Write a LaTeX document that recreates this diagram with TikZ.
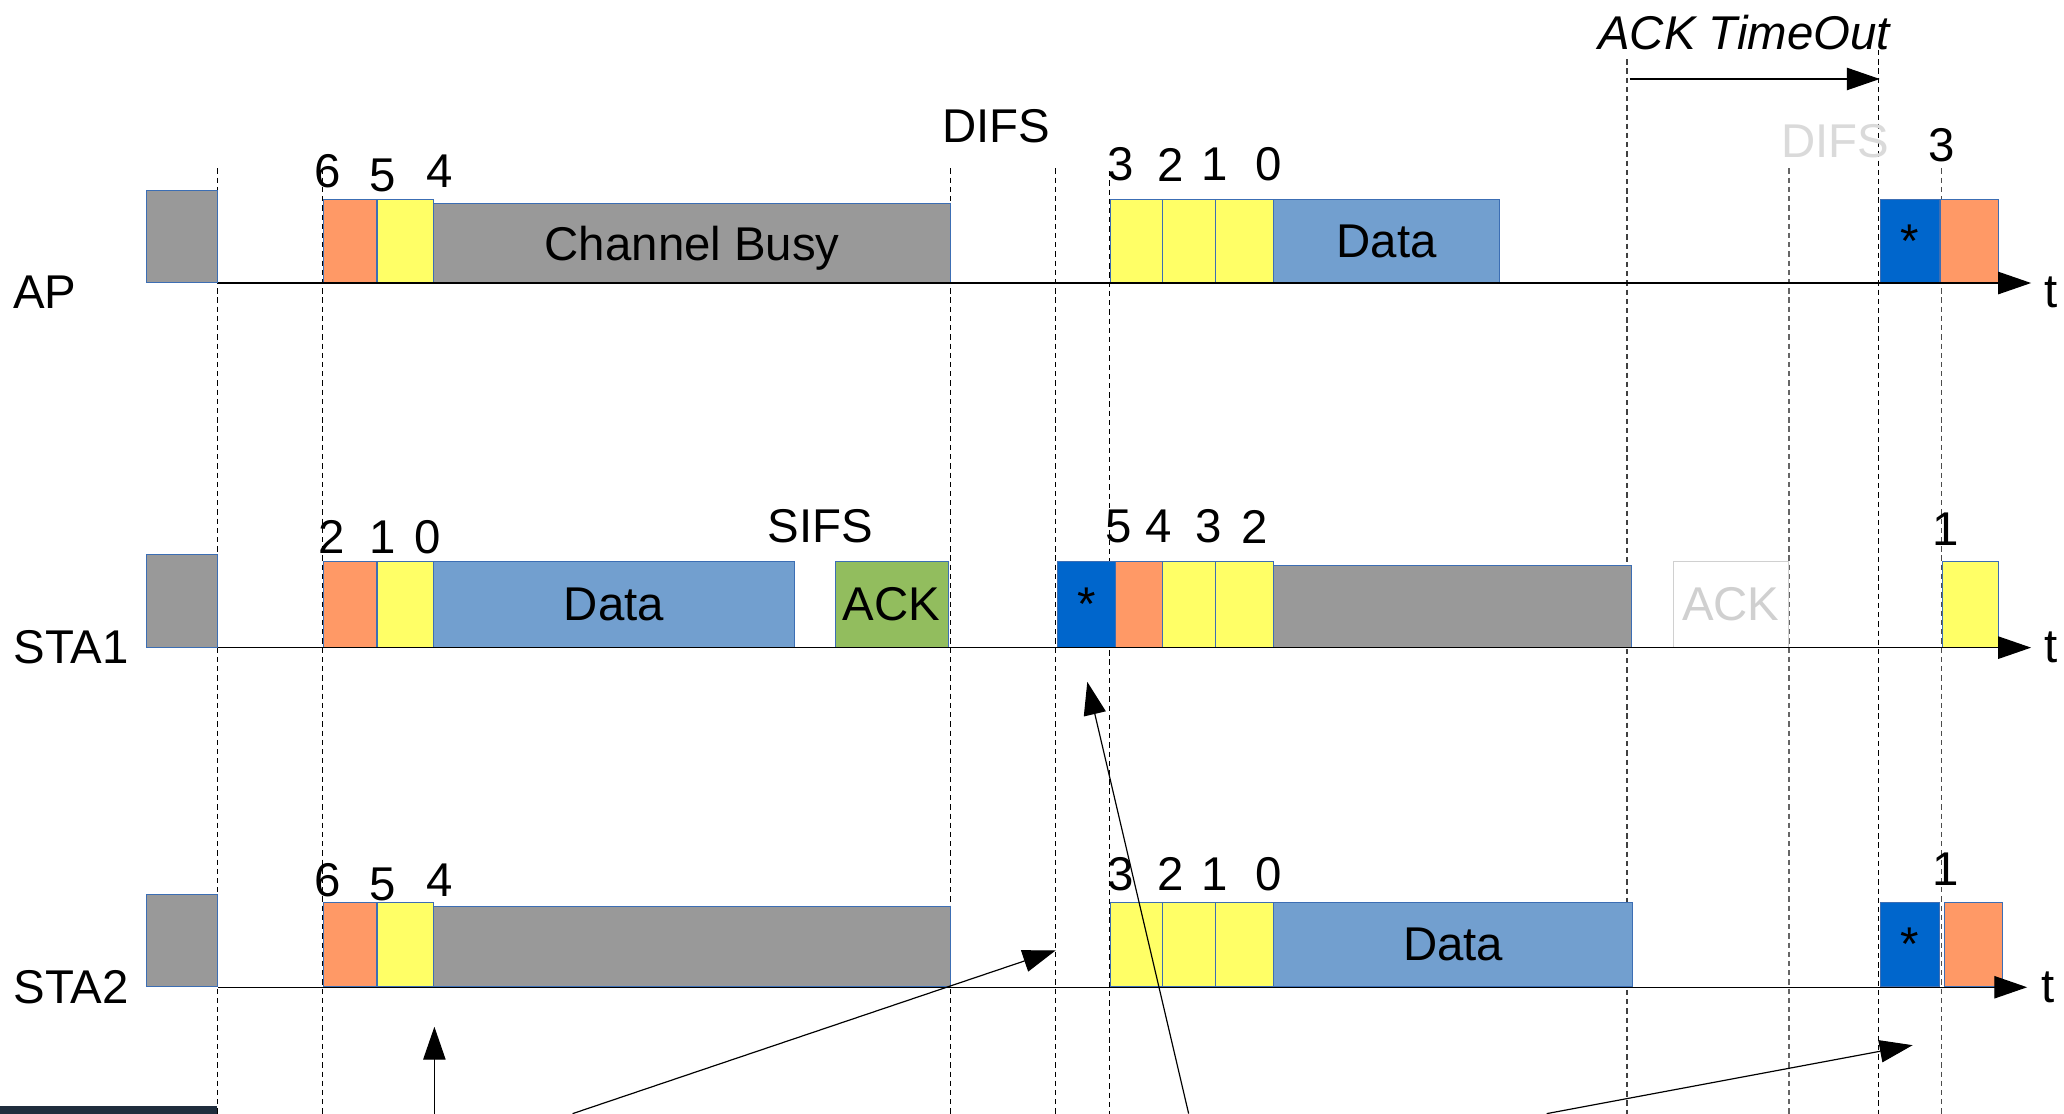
\documentclass[tikz,border=0pt]{standalone}
\usepackage{fontspec}
\setmainfont{Liberation Sans}
\usetikzlibrary{arrows.meta}
\definecolor{cgray}{HTML}{999999}
\definecolor{corange}{HTML}{FF9966}
\definecolor{cyellow}{HTML}{FFFF66}
\definecolor{cdata}{HTML}{729FCF}
\definecolor{cstar}{HTML}{0066CC}
\definecolor{cgreen}{HTML}{92BD5E}
\definecolor{cborder}{HTML}{3C6EB4}
\definecolor{cbar}{HTML}{1F2D3D}
\definecolor{clight}{HTML}{D0D0D0}
\tikzset{
  box/.style={draw=cborder, line width=0.8pt, inner sep=0pt, anchor=south west, text depth=0pt, font=\fontsize{36}{40}\selectfont},
  lbl/.style={inner sep=0pt, font=\fontsize{36}{40}\selectfont},
  axisline/.style={line width=1pt, -{Triangle[length=25pt,width=17pt]}},
  guide/.style={line width=0.9pt, dash pattern=on 4pt off 3pt},
  pointer/.style={line width=0.9pt, -{Triangle[length=25pt,width=17pt]}}
}
\begin{document}
\begin{tikzpicture}[x=1pt,y=-1pt]
\useasboundingbox (0,0) rectangle (1568,846);
\fill[white] (0,0) rectangle (1568,846);
\fill[cbar] (0,840) rectangle (165,846);

% guide lines
\draw[guide] (165,128) -- (165,846);
\draw[guide] (245,128) -- (245,846);
\draw[guide] (722,128) -- (722,846);
\draw[guide] (802,128) -- (802,846);
\draw[guide] (843,130) -- (843,846);
\draw[guide, black!75] (1236,45) -- (1236,846);
\draw[guide, black!60] (1359,128) -- (1359,846);
\draw[guide] (1427,38) -- (1427,846);
\draw[guide, black!70] (1475,128) -- (1475,846);

% ---------- AP ----------
\node[lbl] (apname) at (34,222) {AP};
\node[box, fill=cgray, minimum width=54, minimum height=70] (apg) at (111,215) {};
\node[box, fill=corange, minimum width=41, minimum height=63] (apo) at (245,215) {};
\node[box, fill=cyellow, minimum width=43, minimum height=63] (apy) at (286,215) {};
\node[box, fill=cgray, minimum width=393, minimum height=60] (apbusy) at (329,215) {Channel Busy};
\node[box, fill=cyellow, minimum width=40, minimum height=63] (apy1) at (843,215) {};
\node[box, fill=cyellow, minimum width=40, minimum height=63] (apy2) at (883,215) {};
\node[box, fill=cyellow, minimum width=44, minimum height=63] (apy3) at (923,215) {};
\node[box, fill=cdata, minimum width=172, minimum height=63] (apdata) at (967,215) {Data};
\node[box, fill=cstar, minimum width=45, minimum height=63] (apstar) at (1428,215) {*};
\node[box, fill=corange, minimum width=44, minimum height=63] (apo2) at (1474,215) {};
\coordinate (apend) at (1543,215);
\draw[axisline] (apg.south east) -- (apend);
\node[lbl] (apt) at (1558,222) {t};
\node[lbl] at (249,130) {6};
\node[lbl] at (291,133) {5};
\node[lbl] at (334,130) {4};
\node[lbl] (difs1) at (757,96) {DIFS};
\node[lbl] at (851,125) {3};
\node[lbl] at (889,125) {2};
\node[lbl] at (923,125) {1};
\node[lbl] at (964,125) {0};
\node[lbl, text=clight!80] (difs2) at (1394,107) {DIFS};
\node[lbl] at (1475,110) {3};
\node[lbl, font=\fontsize{36}{40}\selectfont\itshape] (acktext) at (1325,25) {ACK TimeOut};
\coordinate (tostart) at (1238,60);
\coordinate (toend) at (1428,60);
\draw[pointer] (tostart) -- (toend);

% ---------- STA1 ----------
\node[lbl] (s1name) at (54,492) {STA1};
\node[box, fill=cgray, minimum width=54, minimum height=70] (s1g) at (111,492) {};
\node[box, fill=corange, minimum width=41, minimum height=65] (s1o) at (245,492) {};
\node[box, fill=cyellow, minimum width=43, minimum height=65] (s1y) at (286,492) {};
\node[box, fill=cdata, minimum width=274, minimum height=65] (s1data) at (329,492) {Data};
\node[box, fill=cgreen, minimum width=86, minimum height=65] (s1ack) at (634,492) {ACK};
\node[box, fill=cstar, minimum width=44, minimum height=65] (s1star) at (803,492) {*};
\node[box, fill=corange, minimum width=36, minimum height=65] (s1o2) at (847,492) {};
\node[box, fill=cyellow, minimum width=40, minimum height=65] (s1y1) at (883,492) {};
\node[box, fill=cyellow, minimum width=44, minimum height=65] (s1y2) at (923,492) {};
\node[box, fill=cgray, minimum width=272, minimum height=62] (s1busy) at (967,492) {};
\node[box, draw=clight, fill=white, text=clight, minimum width=87, minimum height=65] (s1ack2) at (1271,492) {ACK};
\node[box, fill=cyellow, minimum width=43, minimum height=65] (s1y3) at (1475,492) {};
\coordinate (s1end) at (1543,492);
\draw[axisline] (s1g.south east) -- (s1end);
\node[lbl] (s1t) at (1558,492) {t};
\node[lbl] at (252,408) {2};
\node[lbl] at (291,408) {1};
\node[lbl] at (325,408) {0};
\node[lbl] (sifs) at (623,400) {SIFS};
\node[lbl] at (850,400) {5};
\node[lbl] at (880,400) {4};
\node[lbl] at (918,400) {3};
\node[lbl] at (953,400) {2};
\node[lbl] at (1478,402) {1};

% ---------- STA2 ----------
\node[lbl] (s2name) at (54,750) {STA2};
\node[box, fill=cgray, minimum width=54, minimum height=70] (s2g) at (111,750) {};
\node[box, fill=corange, minimum width=41, minimum height=64] (s2o) at (245,750) {};
\node[box, fill=cyellow, minimum width=43, minimum height=64] (s2y) at (286,750) {};
\node[box, fill=cgray, minimum width=393, minimum height=61] (s2busy) at (329,750) {};
\node[box, fill=cyellow, minimum width=40, minimum height=64] (s2y1) at (843,750) {};
\node[box, fill=cyellow, minimum width=40, minimum height=64] (s2y2) at (883,750) {};
\node[box, fill=cyellow, minimum width=44, minimum height=64] (s2y3) at (923,750) {};
\node[box, fill=cdata, minimum width=273, minimum height=64] (s2data) at (967,750) {Data};
\node[box, fill=cstar, minimum width=45, minimum height=64] (s2star) at (1428,750) {*};
\node[box, fill=corange, minimum width=44, minimum height=64] (s2o2) at (1477,750) {};
\coordinate (s2end) at (1540,750);
\draw[axisline] (s2g.south east) -- (s2end);
\node[lbl] (s2t) at (1556,750) {t};
\node[lbl] at (249,669) {6};
\node[lbl] at (291,672) {5};
\node[lbl] at (334,669) {4};
\node[lbl] at (851,664) {3};
\node[lbl] at (889,664) {2};
\node[lbl] at (923,664) {1};
\node[lbl] at (964,664) {0};
\node[lbl] at (1478,660) {1};

% ---------- pointers ----------
\coordinate (p1a) at (330,846); \coordinate (p1b) at (330,780);
\coordinate (p2a) at (435,846); \coordinate (p2b) at (802,722);
\coordinate (p3a) at (903,846); \coordinate (p3b) at (826,518);
\coordinate (p4a) at (1175,846); \coordinate (p4b) at (1453,794);
\draw[pointer] (p1a) -- (p1b);
\draw[pointer] (p2a) -- (p2b);
\draw[pointer] (p3a) -- (p3b);
\draw[pointer] (p4a) -- (p4b);
\end{tikzpicture}
\end{document}
